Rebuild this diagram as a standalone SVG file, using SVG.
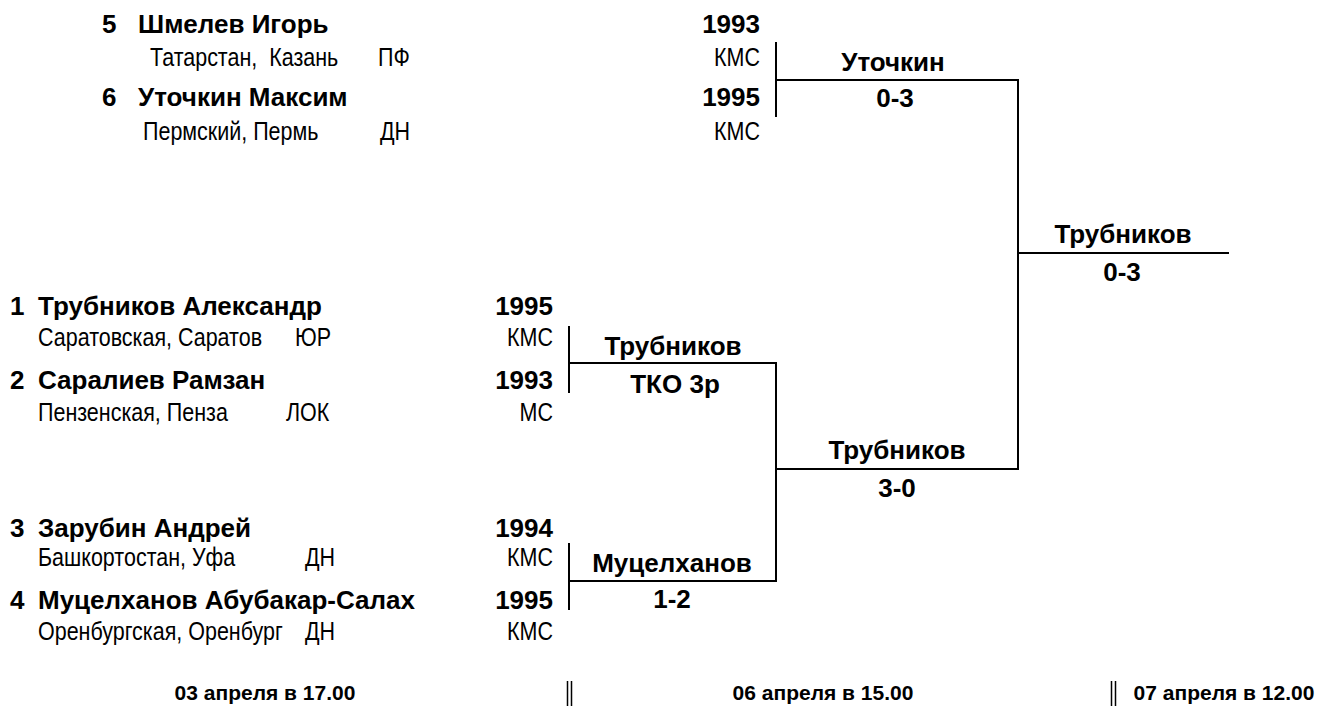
<svg xmlns="http://www.w3.org/2000/svg" width="1321" height="709" viewBox="0 0 1321 709">
<style>
.b{font-family:"Liberation Sans",Arial,sans-serif;font-weight:bold;font-size:26px;fill:#000}
.r{font-family:"Liberation Sans",Arial,sans-serif;font-size:25px;fill:#000}
.d{font-family:"Liberation Sans",Arial,sans-serif;font-weight:bold;font-size:21px;fill:#000;text-anchor:middle}
.e{text-anchor:end}
.m{text-anchor:middle}
.ln{stroke:#000;stroke-width:2;fill:none}
</style>
<rect width="1321" height="709" fill="#fff"/>
<g id="p5">
<text class="b" x="102" y="33">5</text><text class="b" x="138" y="33">Шмелев Игорь</text>
<text class="r" transform="translate(150,66) scale(.86,1)" xml:space="preserve">Татарстан,  Казань</text><text class="r" transform="translate(378,66) scale(.86,1)">ПФ</text>
<text class="b e" x="760" y="33">1993</text><text class="r e" transform="translate(760,66) scale(.86,1)">КМС</text>
</g>
<g id="p6">
<text class="b" x="102" y="106">6</text><text class="b" x="138" y="106">Уточкин Максим</text>
<text class="r" transform="translate(143,140) scale(.86,1)">Пермский, Пермь</text><text class="r" transform="translate(380,140) scale(.86,1)">ДН</text>
<text class="b e" x="760" y="106">1995</text><text class="r e" transform="translate(760,140) scale(.86,1)">КМС</text>
</g>
<g id="p1">
<text class="b" x="10" y="315">1</text><text class="b" x="38" y="315">Трубников Александр</text>
<text class="r" transform="translate(38,346) scale(.86,1)">Саратовская, Саратов</text><text class="r" transform="translate(295,346) scale(.86,1)">ЮР</text>
<text class="b e" x="553" y="315">1995</text><text class="r e" transform="translate(553,346) scale(.86,1)">КМС</text>
</g>
<g id="p2">
<text class="b" x="10" y="389">2</text><text class="b" x="38" y="389">Саралиев Рамзан</text>
<text class="r" transform="translate(38,421) scale(.86,1)">Пензенская, Пенза</text><text class="r" transform="translate(286,421) scale(.86,1)">ЛОК</text>
<text class="b e" x="553" y="389">1993</text><text class="r e" transform="translate(553,421) scale(.86,1)">МС</text>
</g>
<g id="p3">
<text class="b" x="10" y="537">3</text><text class="b" x="38" y="537">Зарубин Андрей</text>
<text class="r" transform="translate(38,566) scale(.86,1)">Башкортостан, Уфа</text><text class="r" transform="translate(305,566) scale(.86,1)">ДН</text>
<text class="b e" x="553" y="537">1994</text><text class="r e" transform="translate(553,566) scale(.86,1)">КМС</text>
</g>
<g id="p4">
<text class="b" x="10" y="609">4</text><text class="b" x="38" y="609">Муцелханов Абубакар-Салах</text>
<text class="r" transform="translate(38,640) scale(.86,1)">Оренбургская, Оренбург</text><text class="r" transform="translate(305,640) scale(.86,1)">ДН</text>
<text class="b e" x="553" y="609">1995</text><text class="r e" transform="translate(553,640) scale(.86,1)">КМС</text>
</g>
<g id="m1">
<text class="b m" x="893" y="71">Уточкин</text><text class="b m" x="895" y="107">0-3</text>
</g>
<g id="m2">
<text class="b m" x="673" y="355">Трубников</text><text class="b m" x="675" y="393">ТКО 3р</text>
</g>
<g id="m3">
<text class="b m" x="672" y="572">Муцелханов</text><text class="b m" x="672" y="608">1-2</text>
</g>
<g id="m4">
<text class="b m" x="897" y="459">Трубников</text><text class="b m" x="897" y="497">3-0</text>
</g>
<g id="m5">
<text class="b m" x="1123" y="243">Трубников</text><text class="b m" x="1122" y="281">0-3</text>
</g>
<g id="connectors">
<path class="ln" d="M776,42V117M776,80H1018V469H776M1018,253H1229"/>
<path class="ln" d="M569,326V393M569,363H776V581H569M569,543V610"/>
<path class="ln" d="M567.5,681V706M571.5,681V706M1111.5,681V706M1115.5,681V706" style="stroke-width:1.5"/>
</g>
<g id="dates">
<text class="d" x="265" y="700">03 апреля в 17.00</text>
<text class="d" x="823" y="700">06 апреля в 15.00</text>
<text class="d" x="1224" y="700">07 апреля в 12.00</text>
</g>
</svg>
